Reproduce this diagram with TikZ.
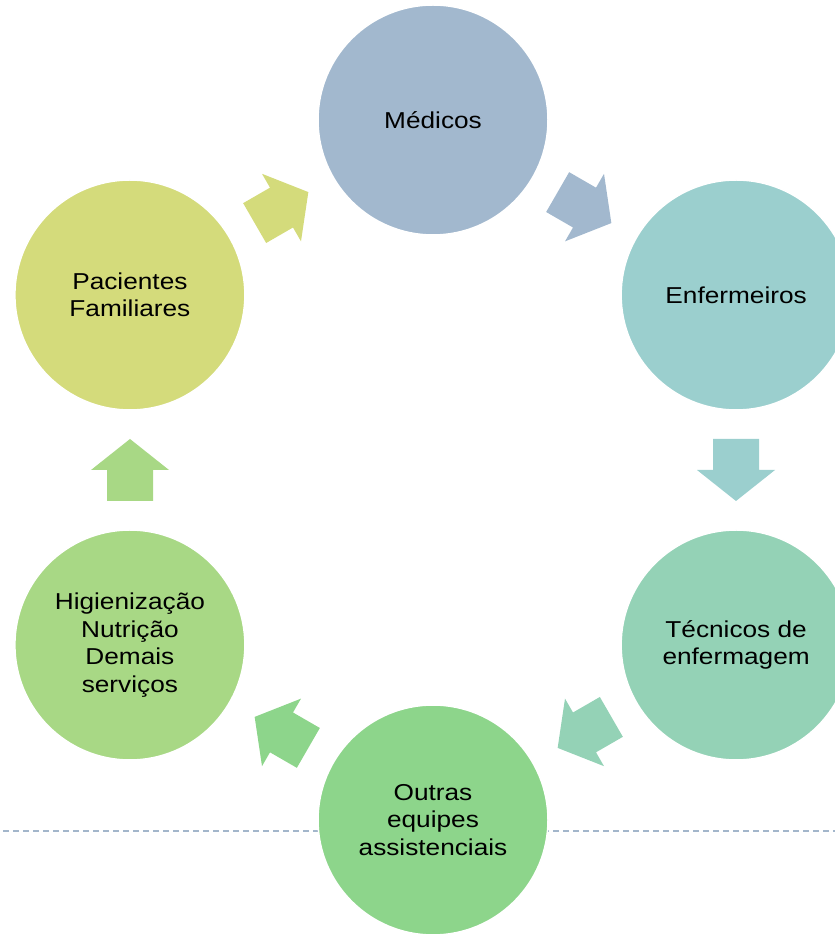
\documentclass[tikz,border=0pt]{standalone}
\usepackage{fontspec}
\setmainfont{Liberation Sans}
\newfontfamily\lblfont[FakeStretch=1.14]{Liberation Sans}
\usepackage{xcolor}
\usepackage{tikz}
\usetikzlibrary{calc}
\tikzset{>=latex}

\definecolor{colMed}{HTML}{A2B8CE}
\definecolor{colEnf}{HTML}{9BCFCE}
\definecolor{colTec}{HTML}{94D2B6}
\definecolor{colOut}{HTML}{8DD58B}
\definecolor{colHig}{HTML}{A8D885}
\definecolor{colPac}{HTML}{D4DB7B}
\definecolor{colLin}{HTML}{A3B6CB}

\tikzset{
	etapa/.style={circle, fill=#1, draw=white, line width=1.5pt,
		minimum size=230pt, inner sep=0pt, align=center, text=black,
		font=\lblfont\fontsize{23}{27.5}\selectfont},
	seta/.style={fill=#1, draw=none}
}

\begin{document}
\begin{tikzpicture}[x=1pt, y=1pt]
	\useasboundingbox (0,0) rectangle (835,937);
	\clip (0,0) rectangle (835,937);
	
	\coordinate[](ctr) at (433,467);
	\pgfmathsetmacro{\R}{350}
	\pgfmathsetmacro{\dR}{303}
	
	% Linha tracejada
	\coordinate[](l0) at (3,106);
	\coordinate[](l1) at (835,106);
	\draw[colLin, line width=2.5pt, dash pattern=on 6pt off 4pt] (l0) -- (l1);
	
	% Setas
	\begin{scope}[shift={(ctr)}]
	\foreach \a/\c in {120/colPac, 60/colMed, 0/colEnf, -60/colTec, -120/colOut, 180/colHig}
	{
	\fill[seta=\c, shift={(\a:\dR)}, rotate={\a-90}]
	(-31,23) -- (0,23) -- (0,39) -- (31,0) -- (0,-39) -- (0,-23) -- (-31,-23) -- cycle;
	}
	\end{scope}
	
	% Etapas
	\node[etapa=colMed] (med) at ($(ctr)+(90:\R)$) {Médicos};
	\node[etapa=colEnf] (enf) at ($(ctr)+(30:\R)$) {Enfermeiros};
	\node[etapa=colTec] (tec) at ($(ctr)+(-30:\R)$) {Técnicos de\\enfermagem};
	\node[etapa=colOut] (out) at ($(ctr)+(-90:\R)$) {Outras\\equipes\\assistenciais};
	\node[etapa=colHig] (hig) at ($(ctr)+(210:\R)$) {Higienização\\Nutrição\\Demais\\serviços};
	\node[etapa=colPac] (pac) at ($(ctr)+(150:\R)$) {Pacientes\\Familiares};
	
\end{tikzpicture}
\end{document}
